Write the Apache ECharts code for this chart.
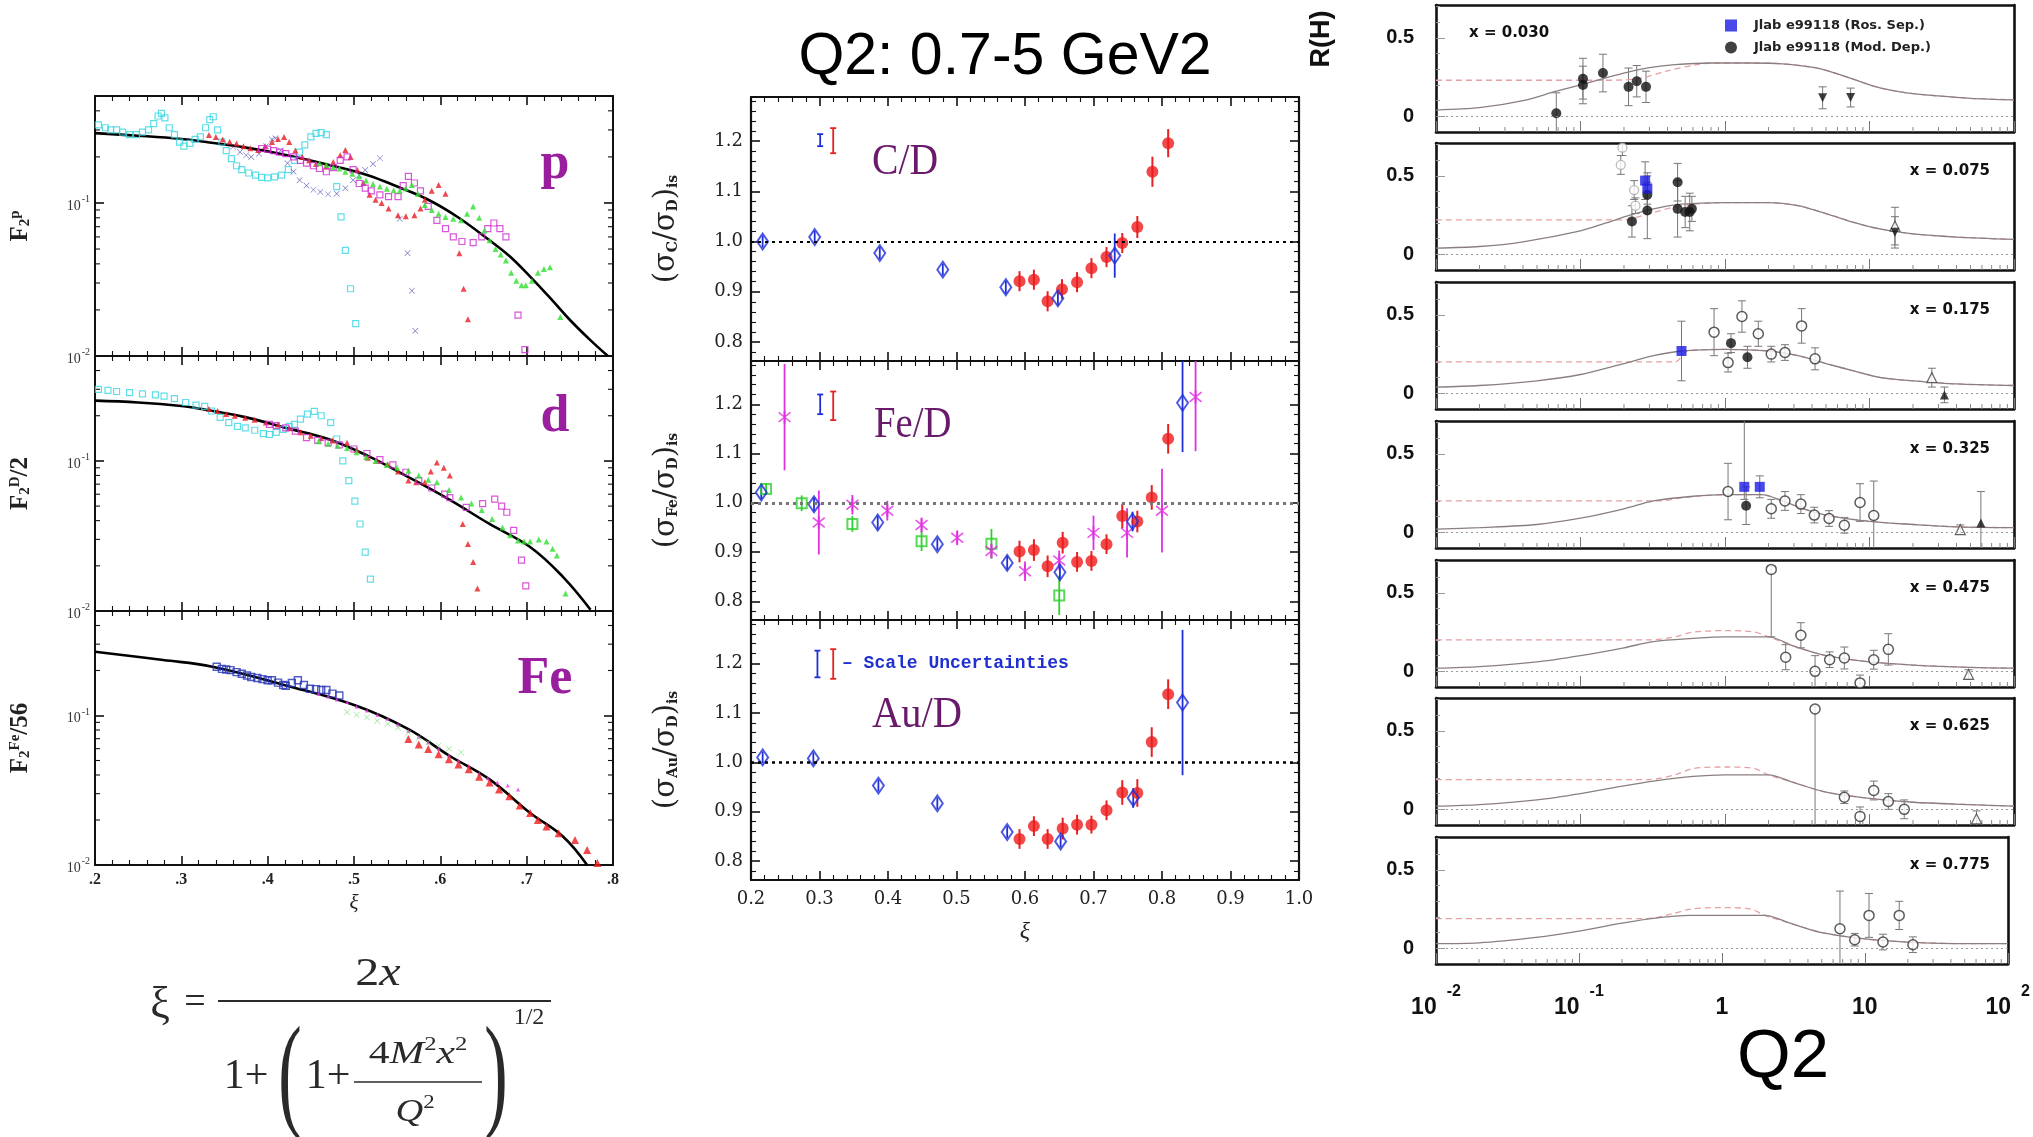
<!DOCTYPE html>
<html><head><meta charset="utf-8">
<script src="https://cdn.jsdelivr.net/npm/echarts@6/dist/echarts.min.js"></script>
<style>html,body{margin:0;padding:0;background:#fff;}#chart{width:2033px;height:1137px;}</style>
</head><body><div id="chart"></div>
<script>
// ================= DATA =================
// ---- Left column: F2 vs xi (log y) ----
const xiTickLabelsLeft = [0.2, 0.3, 0.4, 0.5, 0.6, 0.7, 0.8];
const f2LogMinorTicks = [0.02,0.03,0.04,0.05,0.06,0.07,0.08,0.09,0.2,0.3,0.4];

const F2p_curve = [[0.2,0.286],[0.25,0.275],[0.3,0.262],[0.327,0.251],[0.375,0.23],[0.421,0.206],[0.47,0.178],[0.516,0.152],[0.55,0.128],[0.586,0.105],[0.62,0.081],[0.657,0.057],[0.68,0.045],[0.704,0.033],[0.73,0.023],[0.751,0.017],[0.775,0.0125],[0.794,0.01]];
const F2p_cyan = [[0.204,0.324],[0.212,0.31],[0.218,0.30],[0.225,0.30],[0.232,0.29],[0.240,0.28],[0.248,0.28],[0.255,0.29],[0.262,0.30],[0.268,0.33],[0.273,0.37],[0.277,0.385],[0.281,0.36],[0.286,0.31],[0.292,0.28],[0.298,0.25],[0.303,0.235],[0.310,0.245],[0.316,0.26],[0.322,0.27],[0.328,0.31],[0.333,0.35],[0.337,0.366],[0.342,0.30],[0.347,0.25],[0.352,0.22],[0.358,0.195],[0.364,0.175],[0.370,0.165],[0.378,0.157],[0.386,0.152],[0.393,0.147],[0.400,0.146],[0.408,0.148],[0.416,0.152],[0.424,0.165],[0.431,0.19],[0.437,0.215],[0.443,0.24],[0.450,0.27],[0.456,0.285],[0.462,0.288],[0.468,0.28],[0.480,0.128],[0.485,0.081],[0.490,0.049],[0.496,0.0275],[0.502,0.0163]];
const F2p_blue = [[0.360,0.233],[0.368,0.215],[0.375,0.205],[0.381,0.20],[0.390,0.21],[0.398,0.235],[0.405,0.26],[0.409,0.265],[0.415,0.22],[0.423,0.182],[0.430,0.16],[0.437,0.141],[0.445,0.13],[0.453,0.122],[0.461,0.118],[0.470,0.114],[0.480,0.115],[0.490,0.125],[0.499,0.141],[0.506,0.152],[0.513,0.164],[0.522,0.18],[0.530,0.196],[0.553,0.079],[0.562,0.047],[0.567,0.0267],[0.571,0.0146]];
const F2p_red = [[0.332,0.278],[0.340,0.27],[0.348,0.26],[0.356,0.251],[0.364,0.245],[0.372,0.235],[0.380,0.228],[0.389,0.222],[0.397,0.235],[0.405,0.25],[0.412,0.262],[0.419,0.27],[0.425,0.25],[0.432,0.22],[0.440,0.20],[0.448,0.19],[0.456,0.18],[0.468,0.173],[0.476,0.185],[0.484,0.205],[0.490,0.222],[0.496,0.2],[0.504,0.164],[0.511,0.135],[0.518,0.113],[0.525,0.105],[0.532,0.10],[0.540,0.092],[0.551,0.083],[0.560,0.082],[0.570,0.083],[0.577,0.092],[0.582,0.105],[0.590,0.12],[0.598,0.131],[0.606,0.115],[0.622,0.047],[0.627,0.0275],[0.632,0.0174]];
const F2p_magenta = [[0.393,0.227],[0.400,0.225],[0.407,0.22],[0.414,0.215],[0.421,0.21],[0.430,0.20],[0.438,0.19],[0.445,0.182],[0.453,0.175],[0.460,0.168],[0.468,0.16],[0.476,0.17],[0.484,0.19],[0.492,0.2],[0.499,0.165],[0.506,0.134],[0.513,0.125],[0.520,0.12],[0.530,0.113],[0.540,0.11],[0.551,0.11],[0.557,0.13],[0.563,0.149],[0.570,0.135],[0.577,0.12],[0.586,0.095],[0.596,0.077],[0.606,0.068],[0.615,0.06],[0.625,0.056],[0.638,0.055],[0.648,0.06],[0.655,0.068],[0.662,0.074],[0.669,0.068],[0.676,0.06],[0.690,0.0185],[0.698,0.011]];
const F2p_green = [[0.460,0.182],[0.468,0.178],[0.476,0.172],[0.483,0.168],[0.490,0.16],[0.498,0.155],[0.506,0.149],[0.514,0.14],[0.522,0.133],[0.530,0.128],[0.538,0.124],[0.546,0.121],[0.553,0.12],[0.560,0.125],[0.567,0.131],[0.574,0.115],[0.582,0.097],[0.590,0.09],[0.598,0.085],[0.606,0.081],[0.615,0.079],[0.624,0.077],[0.631,0.085],[0.638,0.095],[0.645,0.08],[0.651,0.066],[0.657,0.057],[0.664,0.05],[0.670,0.046],[0.676,0.042],[0.682,0.035],[0.688,0.031],[0.694,0.029],[0.699,0.029],[0.706,0.031],[0.713,0.035],[0.720,0.037],[0.727,0.038],[0.739,0.018]];

const F2d_curve = [[0.2,0.252],[0.25,0.245],[0.3,0.232],[0.327,0.22],[0.375,0.195],[0.421,0.166],[0.47,0.14],[0.516,0.108],[0.563,0.078],[0.611,0.055],[0.657,0.038],[0.704,0.0267],[0.742,0.0169],[0.774,0.0102]];
const F2d_cyan = [[0.204,0.30],[0.215,0.295],[0.225,0.29],[0.240,0.285],[0.255,0.28],[0.270,0.275],[0.280,0.27],[0.292,0.26],[0.305,0.245],[0.317,0.235],[0.327,0.231],[0.335,0.215],[0.345,0.195],[0.355,0.18],[0.365,0.17],[0.374,0.166],[0.385,0.16],[0.395,0.152],[0.402,0.15],[0.410,0.155],[0.418,0.162],[0.425,0.17],[0.431,0.175],[0.438,0.19],[0.446,0.205],[0.454,0.214],[0.462,0.2],[0.473,0.18],[0.480,0.14],[0.487,0.1],[0.494,0.074],[0.501,0.054],[0.507,0.038],[0.513,0.0247],[0.519,0.0163]];
const F2d_red = [[0.332,0.222],[0.342,0.215],[0.352,0.205],[0.362,0.2],[0.374,0.194],[0.385,0.188],[0.398,0.18],[0.412,0.175],[0.425,0.165],[0.438,0.155],[0.450,0.147],[0.462,0.142],[0.475,0.137],[0.492,0.132],[0.503,0.118],[0.516,0.105],[0.527,0.1],[0.539,0.095],[0.551,0.085],[0.563,0.074],[0.572,0.072],[0.582,0.072],[0.589,0.085],[0.596,0.0975],[0.604,0.09],[0.611,0.08],[0.626,0.038],[0.632,0.028],[0.638,0.0212],[0.643,0.0141]];
const F2d_magenta = [[0.402,0.175],[0.410,0.172],[0.421,0.166],[0.432,0.158],[0.445,0.143],[0.458,0.137],[0.470,0.132],[0.483,0.128],[0.500,0.12],[0.515,0.112],[0.530,0.102],[0.545,0.094],[0.560,0.084],[0.575,0.074],[0.590,0.066],[0.605,0.06],[0.611,0.057],[0.630,0.049],[0.649,0.052],[0.663,0.0557],[0.671,0.05],[0.677,0.0455],[0.685,0.0344],[0.694,0.0218],[0.699,0.0147]];
const F2d_green = [[0.459,0.135],[0.470,0.13],[0.481,0.126],[0.492,0.122],[0.503,0.114],[0.514,0.106],[0.525,0.1],[0.538,0.094],[0.550,0.09],[0.563,0.086],[0.575,0.08],[0.586,0.075],[0.596,0.072],[0.610,0.064],[0.624,0.057],[0.636,0.052],[0.648,0.047],[0.660,0.041],[0.672,0.036],[0.681,0.032],[0.690,0.0295],[0.697,0.029],[0.704,0.029],[0.714,0.03],[0.723,0.029],[0.730,0.026],[0.735,0.0234],[0.745,0.0131]];

const F2Fe_curve = [[0.2,0.267],[0.279,0.235],[0.336,0.212],[0.421,0.159],[0.501,0.117],[0.563,0.081],[0.61,0.054],[0.657,0.0374],[0.704,0.0223],[0.742,0.0155],[0.77,0.01]];
const F2Fe_blue = [[0.341,0.212],[0.347,0.205],[0.352,0.203],[0.357,0.201],[0.364,0.195],[0.370,0.19],[0.376,0.185],[0.381,0.181],[0.388,0.178],[0.394,0.175],[0.400,0.172],[0.405,0.172],[0.412,0.166],[0.418,0.16],[0.421,0.158],[0.428,0.165],[0.435,0.172],[0.442,0.16],[0.449,0.151],[0.456,0.15],[0.462,0.148],[0.468,0.148],[0.475,0.14],[0.483,0.136]];
const F2Fe_magenta = [[0.459,0.14],[0.47,0.134],[0.48,0.128],[0.492,0.123],[0.503,0.115],[0.515,0.108],[0.527,0.101],[0.539,0.095],[0.551,0.087],[0.563,0.079],[0.575,0.072],[0.586,0.066],[0.598,0.06],[0.610,0.054],[0.621,0.05],[0.633,0.046],[0.645,0.041],[0.655,0.038],[0.666,0.0356],[0.678,0.034],[0.690,0.032]];
const F2Fe_green = [[0.492,0.105],[0.503,0.101],[0.515,0.097],[0.527,0.092],[0.539,0.088],[0.551,0.083],[0.563,0.077],[0.575,0.071],[0.586,0.066],[0.598,0.063],[0.610,0.06],[0.624,0.0566]];
const F2Fe_red = [[0.563,0.0697],[0.575,0.064],[0.586,0.0596],[0.598,0.055],[0.61,0.051],[0.621,0.047],[0.633,0.0437],[0.645,0.039],[0.657,0.0356],[0.668,0.032],[0.68,0.0288],[0.692,0.025],[0.704,0.0223],[0.713,0.02],[0.723,0.0181],[0.737,0.0163],[0.756,0.0147],[0.77,0.0126],[0.782,0.0103]];

// ---- Middle column: cross-section ratios vs xi  [xi, ratio, error] ----
const xiTickLabelsMid = [0.2, 0.3, 0.4, 0.5, 0.6, 0.7, 0.8, 0.9, 1.0];
const ratioTickLabels = [0.8, 0.9, 1.0, 1.1, 1.2];

const CD_blue = [[0.217,1.000,0.012],[0.293,1.009,0.012],[0.388,0.977,0.012],[0.480,0.944,0.012],[0.572,0.909,0.013],[0.648,0.887,0.014],[0.731,0.972,0.044]];
const CD_red = [[0.592,0.921,0.02],[0.613,0.924,0.02],[0.633,0.881,0.02],[0.654,0.905,0.02],[0.676,0.919,0.02],[0.697,0.947,0.02],[0.719,0.969,0.02],[0.742,0.997,0.02],[0.764,1.029,0.022],[0.786,1.139,0.03],[0.809,1.196,0.028]];
const CD_scaleBlue = [[0.301,1.202,0.012]];
const CD_scaleRed = [[0.320,1.201,0.025]];

const FeD_blue = [[0.215,1.021,0.014],[0.292,0.997,0.014],[0.385,0.960,0.014],[0.472,0.916,0.012],[0.574,0.878,0.014],[0.651,0.859,0.014],[0.757,0.962,0.02],[0.830,1.203,0.10]];
const FeD_green = [[0.222,1.028,0.012],[0.274,0.999,0.016],[0.348,0.957,0.016],[0.449,0.922,0.02],[0.551,0.917,0.03],[0.650,0.812,0.04]];
const FeD_magenta = [[0.249,1.174,0.108],[0.299,0.960,0.065],[0.348,0.996,0.02],[0.399,0.984,0.02],[0.449,0.955,0.015],[0.501,0.929,0.015],[0.551,0.902,0.015],[0.600,0.861,0.02],[0.650,0.883,0.02],[0.700,0.939,0.035],[0.749,0.939,0.05],[0.800,0.984,0.085],[0.849,1.215,0.11]];
const FeD_red = [[0.592,0.901,0.022],[0.613,0.904,0.022],[0.633,0.871,0.022],[0.655,0.919,0.022],[0.676,0.880,0.02],[0.697,0.882,0.02],[0.719,0.916,0.02],[0.742,0.973,0.025],[0.764,0.962,0.022],[0.785,1.011,0.025],[0.809,1.130,0.03]];
const FeD_scaleBlue = [[0.301,1.200,0.02]];
const FeD_scaleRed = [[0.320,1.197,0.029]];

const AuD_blue = [[0.217,1.010,0.012],[0.291,1.008,0.012],[0.386,0.953,0.012],[0.472,0.917,0.012],[0.574,0.859,0.012],[0.652,0.840,0.012],[0.758,0.928,0.02],[0.830,1.121,0.147]];
const AuD_red = [[0.592,0.845,0.02],[0.613,0.871,0.02],[0.633,0.845,0.02],[0.655,0.866,0.022],[0.676,0.874,0.02],[0.697,0.874,0.018],[0.719,0.903,0.02],[0.742,0.939,0.025],[0.764,0.938,0.028],[0.785,1.041,0.03],[0.809,1.138,0.03]];
const AuD_scaleBlue = [[0.297,1.199,0.027]];
const AuD_scaleRed = [[0.320,1.199,0.03]];

// ---- Right column: R vs Q2 (log x)  points [Q2, R, errDown, errUp?] ----
const q2LogMinorTicks = [0.02,0.03,0.04,0.05,0.06,0.07,0.08,0.09,0.2,0.3,0.4,0.5,0.6,0.7,0.8,0.9,2,3,4,5,6,7,8,9,20,30,40,50,60,70,80,90];
const rTickLabels = [0, 0.5];
const rMinorTicks = [0.1, 0.2, 0.3, 0.4, 0.6, 0.7];
const xBinLabels = ['x = 0.030','x = 0.075','x = 0.175','x = 0.325','x = 0.475','x = 0.625','x = 0.775'];

const R1_model = [[0.01,0.04],[0.02,0.055],[0.04,0.1],[0.068,0.16],[0.1,0.2],[0.15,0.245],[0.21,0.28],[0.3,0.31],[0.45,0.33],[0.8,0.34],[1.5,0.34],[2.5,0.335],[4.2,0.31],[6,0.27],[8.7,0.22],[12,0.18],[18,0.15],[30,0.13],[50,0.115],[100,0.105]];
const R1_modelAlt = [[0.01,0.23],[0.15,0.23],[0.25,0.24],[0.4,0.29],[0.6,0.325],[0.8,0.34],[1.5,0.34],[2.5,0.335],[4.2,0.31],[6,0.27],[8.7,0.22],[12,0.18],[18,0.15],[30,0.13],[50,0.115],[100,0.105]];
const R1_modDep = [[0.068,0.02,0.13],[0.104,0.24,0.13],[0.104,0.20,0.12],[0.143,0.276,0.12],[0.215,0.188,0.12],[0.245,0.224,0.10],[0.284,0.188,0.10]];
const R1_triDown = [[4.74,0.118,0.07],[7.4,0.12,0.06]];

const R2_model = [[0.01,0.04],[0.02,0.05],[0.04,0.08],[0.1,0.15],[0.15,0.2],[0.22,0.25],[0.32,0.29],[0.5,0.32],[1,0.33],[2,0.33],[3.2,0.31],[5,0.26],[8,0.2],[12,0.16],[20,0.13],[40,0.11],[100,0.095]];
const R2_modelAlt = [[0.01,0.22],[0.2,0.22],[0.3,0.26],[0.5,0.31],[1,0.33],[2,0.33],[3.2,0.31],[5,0.26],[8,0.2],[12,0.16],[20,0.13],[40,0.11],[100,0.095]];
const R2_other = [[0.195,0.68,0.05],[0.19,0.57,0.06],[0.235,0.41,0.06],[0.24,0.31,0.05]];
const R2_rosSep = [[0.28,0.47,0.12],[0.29,0.42,0.1]];
const R2_modDep = [[0.227,0.21,0.1],[0.29,0.38,0.12],[0.29,0.28,0.18],[0.47,0.29,0.18],[0.47,0.46,0.12],[0.53,0.27,0.1],[0.57,0.27,0.12],[0.59,0.29,0.08]];
const R2_triDown = [[15,0.14,0.1]];
const R2_triOpen = [[15,0.18,0.12]];

const R3_model = [[0.01,0.04],[0.02,0.05],[0.05,0.08],[0.1,0.12],[0.2,0.19],[0.32,0.24],[0.5,0.27],[1,0.28],[2,0.27],[3.2,0.24],[5,0.19],[8,0.14],[12,0.1],[20,0.08],[40,0.06],[100,0.05]];
const R3_modelAlt = [[0.01,0.2],[0.45,0.2],[0.55,0.27],[1,0.28],[2,0.27],[3.2,0.24],[5,0.19],[8,0.14],[12,0.1],[20,0.08],[40,0.06],[100,0.05]];
const R3_rosSep = [[0.5,0.27,0.19]];
const R3_modDep = [[1.1,0.32,0.06],[1.43,0.23,0.07]];
const R3_open = [[0.84,0.39,0.15],[1.05,0.196,0.06],[1.31,0.49,0.1],[1.7,0.38,0.08],[2.09,0.25,0.05],[2.6,0.26,0.05],[3.39,0.43,0.11],[4.2,0.22,0.07]];
const R3_triOpen = [[27,0.10,0.06]];
const R3_triUp = [[33,-0.01,0.05]];

const R4_model = [[0.01,0.02],[0.02,0.03],[0.05,0.05],[0.1,0.09],[0.2,0.15],[0.32,0.2],[0.6,0.23],[1,0.24],[1.8,0.24],[2.5,0.2],[3.5,0.15],[5,0.11],[10,0.07],[20,0.05],[40,0.035],[100,0.03]];
const R4_modelAlt = [[0.01,0.2],[0.35,0.2],[0.5,0.22],[1,0.24],[1.8,0.24],[2.5,0.2],[3.5,0.15],[5,0.11],[10,0.07],[20,0.05],[40,0.035],[100,0.03]];
const R4_open = [[1.05,0.26,0.18],[2.09,0.15,0.06],[2.6,0.2,0.06],[3.35,0.18,0.06],[4.15,0.11,0.05],[5.25,0.088,0.05],[6.7,0.045,0.05],[8.6,0.19,0.12],[10.7,0.107,0.22]];
const R4_rosSep = [[1.36,0.29,0.08,0.45],[1.74,0.29,0.07]];
const R4_modDep = [[1.4,0.17,0.12]];
const R4_triOpen = [[42.5,0.017,0.03]];
const R4_triUp = [[59,0.06,0.2]];

const R5_model = [[0.01,0.02],[0.02,0.03],[0.05,0.06],[0.1,0.1],[0.2,0.15],[0.32,0.19],[0.6,0.21],[1,0.22],[2,0.22],[3,0.16],[5,0.1],[10,0.06],[20,0.04],[50,0.025],[100,0.02]];
const R5_modelAlt = [[0.01,0.2],[0.3,0.2],[0.45,0.22],[0.6,0.25],[1,0.26],[1.6,0.25],[2,0.22],[3,0.16],[5,0.1],[10,0.06],[20,0.04],[50,0.025],[100,0.02]];
const R5_open = [[2.09,0.65,0.43,0.02],[2.63,0.09,0.08],[3.35,0.23,0.08],[4.2,0.0,0.1],[5.3,0.074,0.05],[6.7,0.085,0.07],[8.6,-0.074,0.05],[10.7,0.074,0.06],[13.5,0.14,0.1]];
const R5_triOpen = [[48.5,-0.02,0.03]];

const R6_model = [[0.01,0.02],[0.02,0.03],[0.05,0.06],[0.1,0.1],[0.2,0.15],[0.32,0.18],[0.6,0.21],[1,0.22],[2,0.22],[3,0.17],[5,0.11],[10,0.07],[20,0.045],[50,0.03],[100,0.02]];
const R6_modelAlt = [[0.01,0.19],[0.3,0.19],[0.45,0.22],[0.6,0.26],[1,0.27],[1.6,0.26],[2,0.22],[3,0.17],[5,0.11],[10,0.07],[20,0.045],[50,0.03],[100,0.02]];
const R6_open = [[4.2,0.64,0.75,0.02],[6.7,0.077,0.04],[8.6,-0.045,0.06],[10.7,0.12,0.06],[13.5,0.05,0.05],[17.4,0.0,0.06]];
const R6_triOpen = [[55,-0.06,0.05]];

const R7_model = [[0.01,0.03],[0.02,0.035],[0.05,0.07],[0.1,0.11],[0.2,0.16],[0.32,0.19],[0.6,0.21],[1,0.21],[2,0.21],[3,0.16],[5,0.1],[10,0.06],[20,0.04],[50,0.03],[100,0.03]];
const R7_modelAlt = [[0.01,0.19],[0.3,0.19],[0.45,0.22],[0.6,0.25],[1,0.26],[1.6,0.25],[2,0.21],[3,0.16],[5,0.1],[10,0.06],[20,0.04],[50,0.03],[100,0.03]];
const R7_open = [[6.7,0.125,0.24],[8.5,0.055,0.04],[10.7,0.21,0.14],[13.4,0.04,0.05],[17.4,0.21,0.09],[21.7,0.023,0.05]];

// ================= BUILD =================
const INK = '#111';
const grid = [], xAxis = [], yAxis = [], series = [], graphic = [];
function steps(a, b, s, skip) { const r = []; for (let k = 0; a + k * s <= b + 1e-9; k++) { const v = Math.round((a + k * s) * 1000) / 1000; if (!skip.some(m => Math.abs(m - v) < 1e-6)) r.push(v); } return r; }
const xiMinorLeft = steps(0.2, 0.8, 0.02, xiTickLabelsLeft);
const xiMinorMid = steps(0.2, 1.0, 0.02, xiTickLabelsMid);
const ratioMinor = steps(0.78, 1.28, 0.02, ratioTickLabels);

const X_PATH = 'path://M0,0.6L0.6,0L5,4.4L9.4,0L10,0.6L5.6,5L10,9.4L9.4,10L5,5.6L0.6,10L0,9.4L4.4,5Z';
const STAR_PATH = 'path://M4.3,0H5.7V10H4.3Z M0.4,1.7L1.2,0.8L9.6,8.3L8.8,9.2Z M8.8,0.8L9.6,1.7L1.2,9.2L0.4,8.3Z';

function tickMarks(xi, yi, data, side, len, color, w) {
  series.push({ type: 'custom', xAxisIndex: xi, yAxisIndex: yi, silent: true, z: 1, data: data, encode: { x: 0, y: 1 },
    renderItem: function (params, api) {
      const cs = params.coordSys; const p = api.coord([api.value(0), api.value(1)]); let s;
      if (side === 'left') s = { x1: cs.x, y1: p[1], x2: cs.x + len, y2: p[1] };
      else if (side === 'right') s = { x1: cs.x + cs.width, y1: p[1], x2: cs.x + cs.width - len, y2: p[1] };
      else if (side === 'bottom') s = { x1: p[0], y1: cs.y + cs.height, x2: p[0], y2: cs.y + cs.height - len };
      else s = { x1: p[0], y1: cs.y, x2: p[0], y2: cs.y + len };
      return { type: 'line', shape: s, style: { stroke: color, lineWidth: w } };
    } });
}
function errBars(xi, yi, arr, color, w, cap) {
  series.push({ type: 'custom', xAxisIndex: xi, yAxisIndex: yi, silent: true, z: 2,
    data: arr.map(d => [d[0], d[1], d[2], d.length > 3 ? d[3] : d[2]]), encode: { x: 0, y: 1 },
    renderItem: function (params, api) {
      const x = api.value(0), y = api.value(1), lo = api.value(2), hi = api.value(3);
      const a = api.coord([x, y - lo]), b = api.coord([x, y + hi]); const cs = params.coordSys;
      const st = { stroke: color, lineWidth: w };
      const ch = [{ type: 'line', shape: { x1: a[0], y1: a[1], x2: b[0], y2: b[1] }, style: st }];
      if (cap) { ch.push({ type: 'line', shape: { x1: a[0] - cap, y1: a[1], x2: a[0] + cap, y2: a[1] }, style: st });
                 ch.push({ type: 'line', shape: { x1: b[0] - cap, y1: b[1], x2: b[0] + cap, y2: b[1] }, style: st }); }
      return { type: 'group', children: ch, clipPath: { type: 'rect', shape: { x: cs.x, y: cs.y, width: cs.width, height: cs.height } } };
    } });
}
function scat(name, xi, yi, arr, symbol, size, itemStyle, extra) {
  series.push(Object.assign({ type: 'scatter', name: name, xAxisIndex: xi, yAxisIndex: yi, data: arr.map(d => [d[0], d[1]]),
    symbol: symbol, symbolSize: size, itemStyle: itemStyle, z: 3, silent: true, clip: true }, extra || {}));
}
function curve(name, xi, yi, arr, style, extra) {
  series.push(Object.assign({ type: 'line', name: name, xAxisIndex: xi, yAxisIndex: yi, data: arr, showSymbol: false, smooth: 0.3,
    lineStyle: style, z: 2, silent: true, clip: true }, extra || {}));
}
const hollow = (c, w) => ({ color: 'rgba(255,255,255,0)', borderColor: c, borderWidth: w || 1.3 });
function logLabel(v) { const l = Math.log10(v); const e = Math.round(l); if (Math.abs(l - e) > 1e-6) return ''; return '{b|10}{s|' + e + '}'; }

// ---------- LEFT ----------
const LT = [96, 356, 611], LH = [260, 255, 254];
const leftPanels = [
  { yName: '{a|F}{s|2}{p|p}', layers: [
      ['c', F2p_curve], ['sq', F2p_cyan, '#38d6e2'], ['x', F2p_blue, '#2a2aa8'], ['tri', F2p_red, '#e81c24'], ['sq', F2p_magenta, '#d02ad0'], ['tri', F2p_green, '#2ee02e'] ] },
  { yName: '{a|F}{s|2}{p|D}{a|/2}', layers: [
      ['c', F2d_curve], ['sq', F2d_cyan, '#38d6e2'], ['tri', F2d_red, '#e81c24'], ['sq', F2d_magenta, '#d02ad0'], ['tri', F2d_green, '#2ee02e'] ] },
  { yName: '{a|F}{s|2}{p|Fe}{a|/56}', layers: [
      ['c', F2Fe_curve], ['sqb', F2Fe_blue, '#2433b4'], ['tris', F2Fe_magenta, '#e03ae0'], ['x', F2Fe_green, '#5ed85e'], ['trib', F2Fe_red, '#ee1c1c'] ] }
];
function xLeft(gi, pos, major, labels) {
  return { gridIndex: gi, type: 'value', min: 0.2, max: 0.8, position: pos,
    axisLine: { show: major, onZero: false, lineStyle: { color: INK, width: 2 } },
    axisTick: { show: true, inside: true, length: major ? 9 : 5, customValues: major ? xiTickLabelsLeft : xiMinorLeft, lineStyle: { color: INK, width: major ? 1.6 : 1.1 } },
    axisLabel: { show: labels, customValues: xiTickLabelsLeft, formatter: v => '.' + Math.round(v * 10), margin: 7, fontFamily: 'Liberation Serif', fontWeight: 'bold', fontSize: 16, color: '#222' },
    splitLine: { show: false },
    name: labels ? 'ξ' : '', nameLocation: 'middle', nameGap: 28, nameTextStyle: { fontFamily: 'Liberation Serif', fontStyle: 'italic', fontSize: 21, color: '#222' } };
}
function yLeft(gi, pos, name) {
  return { gridIndex: gi, type: 'log', logBase: 10, min: 0.01, max: 0.5, position: pos,
    axisLine: { onZero: false, lineStyle: { color: INK, width: 2 } },
    axisTick: { inside: true, length: 9, lineStyle: { color: INK, width: 1.6 } },
    axisLabel: { show: pos === 'left', formatter: logLabel, margin: 5,
      rich: { b: { fontSize: 14, fontFamily: 'Liberation Serif', color: '#333', padding: [6, 0, 0, 0] }, s: { fontSize: 10, fontFamily: 'Liberation Serif', color: '#333', padding: [0, 0, 7, 1] } } },
    splitLine: { show: false }, minorTick: { show: false },
    name: name || '', nameLocation: 'middle', nameGap: 62,
    nameTextStyle: { rich: { a: { fontFamily: 'Liberation Serif', fontWeight: 'bold', fontSize: 25, color: '#222' }, s: { fontFamily: 'Liberation Serif', fontWeight: 'bold', fontSize: 15, color: '#222', padding: [9, 0, 0, 0] }, p: { fontFamily: 'Liberation Serif', fontWeight: 'bold', fontSize: 15, color: '#222', padding: [0, 0, 10, 0] } } } };
}
leftPanels.forEach((P, i) => {
  const gi = grid.push({ left: 95, top: LT[i], width: 518, height: LH[i] }) - 1;
  const xa = xAxis.push(xLeft(gi, 'bottom', true, i === 2)) - 1;
  xAxis.push(xLeft(gi, 'bottom', false, false));
  xAxis.push(xLeft(gi, 'top', true, false));
  xAxis.push(xLeft(gi, 'top', false, false));
  const ya = yAxis.push(yLeft(gi, 'left', P.yName)) - 1;
  yAxis.push(yLeft(gi, 'right'));
  tickMarks(xa, ya, f2LogMinorTicks.map(v => [0.5, v]), 'left', 5, INK, 1.1);
  tickMarks(xa, ya, f2LogMinorTicks.map(v => [0.5, v]), 'right', 5, INK, 1.1);
  P.layers.forEach((L, k) => {
    const nm = 'L' + i + '_' + k;
    if (L[0] === 'c') curve(nm, xa, ya, L[1], { color: '#000', width: 2.6 }, { smooth: 0.4 });
    else if (L[0] === 'sq') scat(nm, xa, ya, L[1], 'rect', 6, hollow(L[2], 1.2));
    else if (L[0] === 'sqb') scat(nm, xa, ya, L[1], 'rect', 7, hollow(L[2], 1.4));
    else if (L[0] === 'x') scat(nm, xa, ya, L[1], X_PATH, 6, { color: L[2] });
    else if (L[0] === 'tri') scat(nm, xa, ya, L[1], 'triangle', 6, { color: L[2] });
    else if (L[0] === 'tris') scat(nm, xa, ya, L[1], 'triangle', 4, { color: L[2] });
    else if (L[0] === 'trib') scat(nm, xa, ya, L[1], 'triangle', 8, { color: L[2] });
  });
});

// ---------- MIDDLE ----------
const MT = [97, 361, 620], MH = [264, 259, 260];
const midPanels = [
  { yName: '{a|(σ}{s|C}{a|/σ}{s|D}{a|)}{s|is}', label: 'C/D', blue: CD_blue, red: CD_red, green: [], magenta: [], sb: CD_scaleBlue, sr: CD_scaleRed, dot: { color: '#000', width: 2, type: [3, 4] } },
  { yName: '{a|(σ}{s|Fe}{a|/σ}{s|D}{a|)}{s|is}', label: 'Fe/D', blue: FeD_blue, red: FeD_red, green: FeD_green, magenta: FeD_magenta, sb: FeD_scaleBlue, sr: FeD_scaleRed, dot: { color: '#777', width: 3, type: [3, 4] } },
  { yName: '{a|(σ}{s|Au}{a|/σ}{s|D}{a|)}{s|is}', label: 'Au/D', blue: AuD_blue, red: AuD_red, green: [], magenta: [], sb: AuD_scaleBlue, sr: AuD_scaleRed, dot: { color: '#000', width: 2.5, type: [3, 4] } }
];
function xMid(gi, pos, major, labels) {
  return { gridIndex: gi, type: 'value', min: 0.2, max: 1.0, position: pos,
    axisLine: { show: major, onZero: false, lineStyle: { color: INK, width: 2.2 } },
    axisTick: { show: true, inside: true, length: major ? 9 : 5, customValues: major ? xiTickLabelsMid : xiMinorMid, lineStyle: { color: INK, width: major ? 1.6 : 1.1 } },
    axisLabel: { show: labels, customValues: xiTickLabelsMid, formatter: v => v.toFixed(1), margin: 10, fontFamily: 'DejaVu Serif', fontSize: 18, color: '#222' },
    splitLine: { show: false },
    name: labels ? 'ξ' : '', nameLocation: 'middle', nameGap: 40, nameTextStyle: { fontFamily: 'Liberation Serif', fontStyle: 'italic', fontSize: 24, color: '#222' } };
}
function yMid(gi, pos, major, name) {
  return { gridIndex: gi, type: 'value', min: 0.762, max: 1.288, position: pos,
    axisLine: { show: major, onZero: false, lineStyle: { color: INK, width: 2.2 } },
    axisTick: { show: true, inside: true, length: major ? 9 : 5, customValues: major ? ratioTickLabels : ratioMinor, lineStyle: { color: INK, width: major ? 1.6 : 1.1 } },
    axisLabel: { show: !!name, customValues: ratioTickLabels, formatter: v => v.toFixed(1), margin: 8, fontFamily: 'DejaVu Serif', fontSize: 18, color: '#222' },
    splitLine: { show: false },
    name: name || '', nameLocation: 'middle', nameGap: 70,
    nameTextStyle: { rich: { a: { fontFamily: 'DejaVu Serif', fontSize: 29, color: '#222' }, s: { fontFamily: 'DejaVu Serif', fontWeight: 'bold', fontSize: 14, color: '#222', padding: [14, 0, 0, 0] } } } };
}
midPanels.forEach((P, i) => {
  const gi = grid.push({ left: 751, top: MT[i], width: 548, height: MH[i] }) - 1;
  const xa = xAxis.push(xMid(gi, 'bottom', true, i === 2)) - 1;
  xAxis.push(xMid(gi, 'bottom', false, false));
  xAxis.push(xMid(gi, 'top', true, false));
  xAxis.push(xMid(gi, 'top', false, false));
  const ya = yAxis.push(yMid(gi, 'left', true, P.yName)) - 1;
  yAxis.push(yMid(gi, 'left', false));
  yAxis.push(yMid(gi, 'right', true));
  yAxis.push(yMid(gi, 'right', false));
  series.push({ type: 'line', xAxisIndex: xa, yAxisIndex: ya, data: [], silent: true,
    markLine: { silent: true, symbol: 'none', label: { show: false }, lineStyle: P.dot, data: [{ yAxis: 1 }] } });
  errBars(xa, ya, P.sb, '#1f2fd8', 1.8, 3);
  errBars(xa, ya, P.sr, '#e82020', 1.8, 3);
  errBars(xa, ya, P.green, '#2ed02e', 1.8, 0);
  errBars(xa, ya, P.magenta, '#e030e0', 1.8, 0);
  errBars(xa, ya, P.red, '#e82020', 2, 0);
  errBars(xa, ya, P.blue, '#1f2fd8', 1.8, 0);
  scat('M' + i + 'g', xa, ya, P.green, 'rect', 10, hollow('#2ed02e', 2));
  scat('M' + i + 'm', xa, ya, P.magenta, STAR_PATH, 13, { color: '#e030e0' });
  scat('M' + i + 'r', xa, ya, P.red, 'circle', 12, { color: '#ee1c1c' });
  scat('M' + i + 'b', xa, ya, P.blue, 'diamond', [11, 16], hollow('#1f2fd8', 2));
});

// ---------- RIGHT ----------
const RT = [5, 143, 282, 421, 560, 698, 837], RH = 127;
const ROS = 'Jlab e99118 (Ros. Sep.)', MOD = 'Jlab e99118 (Mod. Dep.)';
const rightPanels = [
  { model: R1_model, alt: R1_modelAlt, modDep: R1_modDep, triDown: R1_triDown },
  { model: R2_model, alt: R2_modelAlt, other: R2_other, rosSep: R2_rosSep, modDep: R2_modDep, triDown: R2_triDown, triOpen: R2_triOpen },
  { model: R3_model, alt: R3_modelAlt, rosSep: R3_rosSep, modDep: R3_modDep, open: R3_open, triOpen: R3_triOpen, triUp: R3_triUp },
  { model: R4_model, alt: R4_modelAlt, open: R4_open, rosSep: R4_rosSep, modDep: R4_modDep, triOpen: R4_triOpen, triUp: R4_triUp },
  { model: R5_model, alt: R5_modelAlt, open: R5_open, triOpen: R5_triOpen },
  { model: R6_model, alt: R6_modelAlt, open: R6_open, triOpen: R6_triOpen },
  { model: R7_model, alt: R7_modelAlt, open: R7_open }
];
function q2Label(v) { const e = Math.round(Math.log10(v)); if (e === 0) return '{b|1}'; if (e === 1) return '{b|10}'; return '{b|10}{s|' + e + '}'; }
function xRight(gi, pos, labels) {
  return { gridIndex: gi, type: 'log', logBase: 10, min: 0.01, max: 100, position: pos,
    axisLine: { onZero: false, lineStyle: { color: INK, width: 2.6 } },
    axisTick: { show: pos === 'bottom', inside: true, length: 11, lineStyle: { color: '#777', width: 1 } },
    axisLabel: { show: labels, formatter: q2Label, margin: 20,
      rich: { b: { fontFamily: 'Liberation Sans', fontWeight: 'bold', fontSize: 23, color: '#111', padding: [12, 0, 0, 0] },
              s: { fontFamily: 'Liberation Sans', fontWeight: 'bold', fontSize: 16, color: '#111', padding: [0, 0, 19, 10] } } },
    splitLine: { show: false }, minorTick: { show: false } };
}
function yRight(gi, pos, major) {
  return { gridIndex: gi, type: 'value', min: -0.1, max: 0.71, position: pos,
    axisLine: { show: major, onZero: false, lineStyle: { color: INK, width: 2.6 } },
    axisTick: { show: pos === 'left', inside: true, length: major ? 9 : 4, customValues: major ? rTickLabels : rMinorTicks, lineStyle: { color: '#999', width: 1 } },
    axisLabel: { show: pos === 'left' && major, customValues: rTickLabels, formatter: v => (Math.abs(v) < 1e-9 ? '0' : String(v)), margin: 22, fontFamily: 'Liberation Sans', fontWeight: 'bold', fontSize: 20, color: '#111' },
    splitLine: { show: false } };
}
rightPanels.forEach((P, i) => {
  const gi = grid.push({ left: 1436, top: RT[i], width: 578, height: RH }) - 1;
  const xa = xAxis.push(xRight(gi, 'bottom', i === 6)) - 1;
  xAxis.push(xRight(gi, 'top', false));
  const ya = yAxis.push(yRight(gi, 'left', true)) - 1;
  yAxis.push(yRight(gi, 'left', false));
  yAxis.push(yRight(gi, 'right', true));
  tickMarks(xa, ya, q2LogMinorTicks.map(v => [v, 0]), 'bottom', 5, '#888', 1);
  curve('R' + i + 'alt', xa, ya, P.alt, { color: '#e4a0a4', width: 1.3, type: [6, 4] });
  curve('R' + i + 'model', xa, ya, P.model, { color: '#8a7f80', width: 1.3 },
    { markLine: { silent: true, symbol: 'none', label: { show: false }, lineStyle: { color: '#999', width: 1.2, type: [2, 3] }, data: [{ yAxis: 0 }] } });
  const pts = [].concat(P.other || [], P.open || [], P.rosSep || [], P.modDep || [], P.triDown || [], P.triUp || [], P.triOpen || []);
  errBars(xa, ya, pts, '#777', 1, 4);
  if (P.other) scat('R' + i + 'other', xa, ya, P.other, 'circle', 9, { color: '#fff', borderColor: '#aaa', borderWidth: 1.3 });
  if (P.triOpen) scat('R' + i + 'triOpen', xa, ya, P.triOpen, 'triangle', 10, { color: '#fff', borderColor: '#444', borderWidth: 1.2 });
  if (P.open) scat('R' + i + 'open', xa, ya, P.open, 'circle', 10, { color: '#fff', borderColor: '#333', borderWidth: 1.5 });
  if (P.triDown) scat('R' + i + 'triDown', xa, ya, P.triDown, 'triangle', 9, { color: '#111' }, { symbolRotate: 180 });
  if (P.triUp) scat('R' + i + 'triUp', xa, ya, P.triUp, 'triangle', 9, { color: '#111' });
  if (P.modDep) scat(MOD, xa, ya, P.modDep, 'circle', 10, { color: '#111' });
  if (P.rosSep) scat(ROS, xa, ya, P.rosSep, 'rect', 10, { color: '#1a1ae6' });
  graphic.push({ type: 'text', x: i === 0 ? 1469 : 1990, y: RT[i] + 28,
    style: { text: xBinLabels[i], font: 'bold 15px "DejaVu Sans"', fill: '#111', align: i === 0 ? 'left' : 'right', verticalAlign: 'middle' } });
});

// ---------- TEXT ----------
function txt(t, x, y, font, fill, extra) {
  graphic.push(Object.assign({ type: 'text', x: x, y: y, style: { text: t, font: font, fill: fill || '#111', align: 'center', verticalAlign: 'middle' } }, extra || {}));
}
txt('Q2: 0.7-5 GeV2', 1005, 58, '59px "Liberation Sans"', '#000');
txt('Q2', 1783, 1058, '69px "Liberation Sans"', '#000');
txt('R(H)', 1322, 39, 'bold 27px "Liberation Sans"', '#111', { rotation: Math.PI / 2 });
txt('p', 555, 165, 'bold 52px "Liberation Serif"', '#9a1f9e');
txt('d', 555, 418, 'bold 52px "Liberation Serif"', '#9a1f9e');
txt('Fe', 545, 680, 'bold 52px "Liberation Serif"', '#9a1f9e');
graphic.push({ type: 'text', x: 872, y: 162, scaleX: 0.9, style: { text: 'C/D', font: '44px "Liberation Serif"', fill: '#6a1a6a', align: 'left', verticalAlign: 'middle' } });
graphic.push({ type: 'text', x: 874, y: 425, scaleX: 0.88, style: { text: 'Fe/D', font: '44px "Liberation Serif"', fill: '#6a1a6a', align: 'left', verticalAlign: 'middle' } });
graphic.push({ type: 'text', x: 872, y: 715, scaleX: 0.92, style: { text: 'Au/D', font: '44px "Liberation Serif"', fill: '#6a1a6a', align: 'left', verticalAlign: 'middle' } });
graphic.push({ type: 'text', x: 842, y: 663, style: { text: '– Scale Uncertainties', font: 'bold 18px "Liberation Mono"', fill: '#1f2fd0', align: 'left', verticalAlign: 'middle' } });

// formula
const FC = '#2a2a2a';
txt('ξ', 160, 1005, '44px "Liberation Serif"', FC);
txt('=', 195, 1003, '38px "Liberation Serif"', FC);
graphic.push({ type: 'text', x: 378, y: 974, scaleX: 1.2, style: { text: '{n|2}{i|x}', align: 'center', verticalAlign: 'middle', rich: { n: { font: '40px "Liberation Serif"', fill: FC }, i: { font: 'italic 40px "Liberation Serif"', fill: FC } } } });
graphic.push({ type: 'line', shape: { x1: 218, y1: 1001, x2: 551, y2: 1001 }, style: { stroke: FC, lineWidth: 2 } });
txt('1+', 246, 1077, '42px "Liberation Serif"', FC);
graphic.push({ type: 'text', x: 290, y: 1080, scaleX: 0.55, style: { text: '(', font: '128px "Liberation Serif"', fill: FC, align: 'center', verticalAlign: 'middle' } });
txt('1+', 328, 1077, '42px "Liberation Serif"', FC);
graphic.push({ type: 'text', x: 418, y: 1052, scaleX: 1.3, style: { text: '{n|4}{i|M}{s|2}{i|x}{s|2}', align: 'center', verticalAlign: 'middle',
  rich: { n: { font: '32px "Liberation Serif"', fill: FC, padding: [6, 0, 0, 0] }, i: { font: 'italic 32px "Liberation Serif"', fill: FC, padding: [6, 0, 0, 0] }, s: { font: '19px "Liberation Serif"', fill: FC, padding: [0, 0, 14, 0] } } } });
graphic.push({ type: 'line', shape: { x1: 354, y1: 1082, x2: 482, y2: 1082 }, style: { stroke: FC, lineWidth: 1.6 } });
graphic.push({ type: 'text', x: 415, y: 1110, scaleX: 1.2, style: { text: '{i|Q}{s|2}', align: 'center', verticalAlign: 'middle',
  rich: { i: { font: 'italic 32px "Liberation Serif"', fill: FC, padding: [6, 0, 0, 0] }, s: { font: '19px "Liberation Serif"', fill: FC, padding: [0, 0, 14, 0] } } } });
graphic.push({ type: 'text', x: 496, y: 1080, scaleX: 0.55, style: { text: ')', font: '128px "Liberation Serif"', fill: FC, align: 'center', verticalAlign: 'middle' } });
txt('1/2', 529, 1018, '24px "Liberation Serif"', FC);

const chart = echarts.init(document.getElementById('chart'), null, { renderer: 'canvas', width: 2033, height: 1137 });
chart.setOption({
  animation: false,
  backgroundColor: '#fff',
  textStyle: { fontFamily: 'Liberation Sans' },
  grid: grid, xAxis: xAxis, yAxis: yAxis, series: series, graphic: graphic,
  legend: { data: [{ name: ROS, icon: 'rect' }, { name: MOD, icon: 'circle' }], orient: 'vertical', left: 1720, top: 14,
    itemWidth: 12, itemHeight: 12, itemGap: 9, selectedMode: false,
    textStyle: { fontFamily: 'DejaVu Sans', fontWeight: 'bold', fontSize: 13, color: '#222', padding: [0, 0, 0, 12] } }
});
</script></body></html>
